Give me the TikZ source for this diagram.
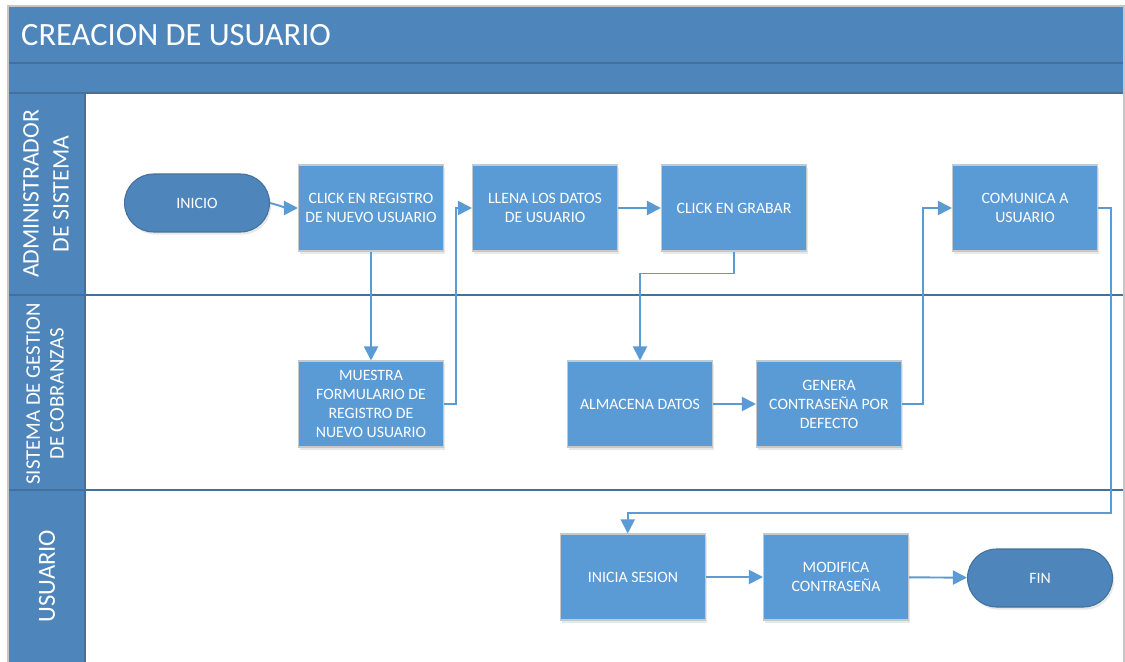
\documentclass[tikz,border=0pt]{standalone}
\usepackage{fontspec}
\setmainfont{Carlito}
\usetikzlibrary{arrows.meta}
\usetikzlibrary{shadows}
\usetikzlibrary{positioning}
\definecolor{headblue}{HTML}{4E86BC}
\definecolor{taskblue}{HTML}{5B9BD5}
\definecolor{darkline}{HTML}{41719C}
\definecolor{taskedge}{HTML}{C4C9CE}

\begin{document}
\begin{tikzpicture}[x=0.02cm,y=-0.02cm,>={Triangle[length=8pt,width=8pt]},
    task node/.style={rectangle,fill=taskblue,draw=taskedge,line width=0.6pt,text=white,align=center,
      font=\fontsize{9}{10.8}\selectfont,minimum width=2.9cm,minimum height=1.72cm,inner sep=0pt,
      drop shadow={opacity=0.18,shadow xshift=1pt,shadow yshift=-1.5pt}},
    end node/.style={rectangle,rounded corners=0.58cm,fill=headblue,draw=darkline,line width=0.6pt,text=white,
      font=\fontsize{9}{10.8}\selectfont,minimum width=2.9cm,minimum height=1.16cm,inner sep=0pt,
      drop shadow={opacity=0.18,shadow xshift=1pt,shadow yshift=-1.5pt}},
    lane label/.style={rotate=90,text=white,align=center},
    flow/.style={->,color=taskblue,line width=1.1pt}]
  \useasboundingbox (0,0) rectangle (1125,662);

  % pool and lanes
  \fill[white] (8,6) rectangle (1125,662);
  \fill[headblue] (8,6) rectangle (1125,63);
  \fill[headblue] (8,63) rectangle (1125,93);
  \fill[headblue] (8,93) rectangle (85,662);
  \draw[darkline,line width=0.8pt] (8,63) -- (1125,63);
  \draw[darkline,line width=0.8pt] (8,93) -- (1125,93);
  \draw[darkline,line width=0.8pt] (8,295) -- (1125,295);
  \draw[darkline,line width=0.8pt] (8,490) -- (1125,490);
  \draw[darkline,line width=0.6pt] (85,93) -- (85,662);
  \draw[gray!45,line width=0.6pt] (8,662) -- (8,6) -- (1124,6) -- (1124,662);

  \node[anchor=west,text=white,font=\fontsize{18.5}{20}\selectfont] (title) at (15,35) {CREACION DE USUARIO};
  \node[lane label,font=\fontsize{13.5}{17}\selectfont] (lane1) at (46,194) {ADMINISTRADOR\\DE SISTEMA};
  \node[lane label,font=\fontsize{11.8}{13.5}\selectfont] (lane2) at (45,394) {SISTEMA DE GESTION\\DE COBRANZAS};
  \node[lane label,font=\fontsize{14}{18}\selectfont] (lane3) at (47,576) {USUARIO};

  % steps
  \node[end node] (inicio) at (197,203) {INICIO};
  \node[task node] (click) at (371,208) {CLICK EN REGISTRO\\DE NUEVO USUARIO};
  \node[task node] (llena) at (545,208) {LLENA LOS DATOS\\DE USUARIO};
  \node[task node] (grabar) at (734,208) {CLICK EN GRABAR};
  \node[task node] (comunica) at (1025,208) {COMUNICA A\\USUARIO};
  \node[task node] (muestra) at (371,404) {MUESTRA\\FORMULARIO DE\\REGISTRO DE\\NUEVO USUARIO};
  \node[task node] (almacena) at (640,404) {ALMACENA DATOS};
  \node[task node] (genera) at (829,404) {GENERA\\CONTRASEÑA POR\\DEFECTO};
  \node[task node] (inicia) at (633,577) {INICIA SESION};
  \node[task node] (modifica) at (836,577) {MODIFICA\\CONTRASEÑA};
  \node[end node] (fin) at (1040,578) {FIN};
  \coordinate (vuelta) at (1111,513);

  % connectors
  \draw[flow] (inicio.east) to[out=-15,in=180] (click.west);
  \path[flow] (click) edge (muestra);
  \draw[flow] (muestra.east) -- ++(12,0) |- (llena.west);
  \path[flow] (llena) edge (grabar);
  \draw[flow] (grabar.south) -- ++(0,22) -| (almacena.north);
  \path[flow] (almacena) edge (genera);
  \draw[flow] (genera.east) -- ++(21,0) |- (comunica.west);
  \draw[flow] (comunica.east) -| (vuelta) -| ([xshift=-3pt]inicia.north);
  \path[flow] (inicia) edge (modifica);
  \path[flow] (modifica) edge (fin);
\end{tikzpicture}
\end{document}
